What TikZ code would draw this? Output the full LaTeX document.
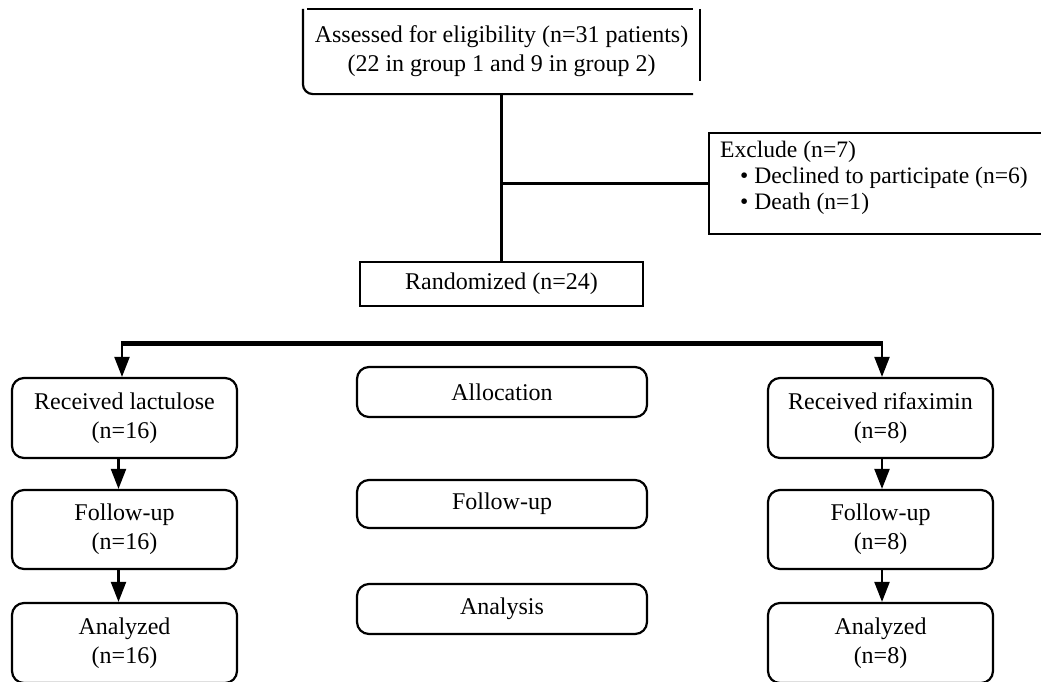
\documentclass[tikz,border=0pt]{standalone}
\usepackage{fontspec}
\setmainfont{Liberation Serif}
\usetikzlibrary{arrows.meta}
\newcommand{\fs}{\fontsize{24}{29}\selectfont}
\newcommand{\fsx}{\fontsize{23.6}{26}\selectfont}
\begin{document}
\begin{tikzpicture}[x=1pt,y=-1pt,
  base/.style={line width=2.2pt, align=center, inner sep=0pt, font=\fs},
  rbox/.style={base, draw, rounded corners=12pt},
  sbox/.style={base, draw},
  conn/.style={line width=2.2pt},
  arr/.style={line width=2.2pt, -{Triangle[length=20pt,width=15pt]}},
  thickline/.style={line width=5pt}]
\useasboundingbox (0,0) rectangle (1041,681);
\clip (0,0) rectangle (1041,681);
\fill[white] (0,0) rectangle (1041,681);

% top box (border drawn in pieces)
\node[base, minimum width=395pt, minimum height=83pt] (assess) at (501.5,51.5)
  {Assessed for eligibility (n=31 patients)\\(22 in group 1 and 9 in group 2)};
\draw[conn] ([xshift=4pt]assess.north west) -- ([xshift=-7pt]assess.north east);
\draw[conn] (assess.north east) -- ([yshift=13pt]assess.south east);
\draw[conn, rounded corners=10pt] (assess.north west) -- (assess.south west) -- ([xshift=-7pt]assess.south east);

% exclude
\node[sbox, minimum width=335pt, minimum height=101pt] (excl) at (876.5,183.5) {};
\node[base, font=\fsx, align=left, anchor=north west] (excltext) at (719,140)
  {Exclude (n=7)\\
   \hspace*{20pt}\textbullet\ Declined to participate (n=6)\\
   \hspace*{20pt}\textbullet\ Death (n=1)};

% randomized
\node[sbox, minimum width=283pt, minimum height=44pt] (rand) at (501.5,284) {Randomized (n=24)};

% left column
\node[rbox, minimum width=225pt, minimum height=80pt] (lact) at (124.5,418) {Received lactulose\\(n=16)};
\node[rbox, minimum width=225pt, minimum height=79pt] (lfu) at (124.5,529.5) {Follow-up\\(n=16)};
\node[rbox, minimum width=225pt, minimum height=80pt] (lan) at (124.5,643) {Analyzed\\(n=16)};

% middle column
\node[rbox, minimum width=290pt, minimum height=50pt] (alloc) at (502,392) {Allocation};
\node[rbox, minimum width=290pt, minimum height=48pt] (mfu) at (502,504) {Follow-up};
\node[rbox, minimum width=290pt, minimum height=50pt] (manal) at (502,609) {Analysis};

% right column
\node[rbox, minimum width=225pt, minimum height=80pt] (rif) at (880.5,418) {Received rifaximin\\(n=8)};
\node[rbox, minimum width=225pt, minimum height=79pt] (rfu) at (880.5,529.5) {Follow-up\\(n=8)};
\node[rbox, minimum width=225pt, minimum height=80pt] (ran) at (880.5,643) {Analyzed\\(n=8)};

% connectors
\draw[conn] (assess.south) -- (rand.north);
\draw[conn] (assess.south |- excl.west) -- (excl.west);

\coordinate (tl) at (122,343);
\coordinate (tr) at (882,343);
\draw[thickline] ([xshift=-1.1pt]tl) -- ([xshift=1.1pt]tr);
\draw[arr] (tl) -- (tl |- lact.north);
\draw[arr] (tr) -- (tr |- rif.north);

\draw[arr] ([xshift=-6pt]lact.south) -- ([xshift=-6pt]lfu.north);
\draw[arr] ([xshift=-6pt]lfu.south) -- ([xshift=-6pt]lan.north);
\draw[arr] ([xshift=1.5pt]rif.south) -- ([xshift=1.5pt]rfu.north);
\draw[arr] ([xshift=1.5pt]rfu.south) -- ([xshift=1.5pt]ran.north);
\end{tikzpicture}
\end{document}
